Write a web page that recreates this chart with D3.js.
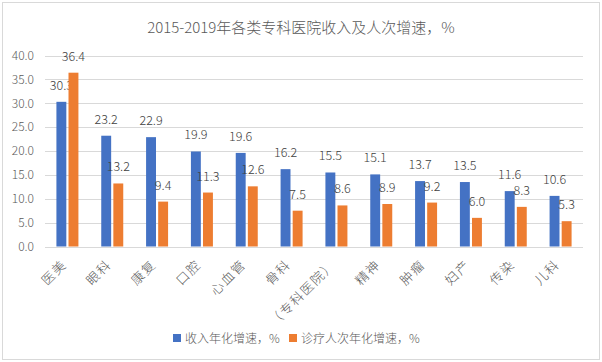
<!DOCTYPE html>
<meta charset="utf-8">
<style>
body { margin: 0; background: #fff; }
text { font-family: "Noto Sans CJK SC", "Noto Sans", sans-serif; font-weight: 300; }
.grid line { stroke: #d9d9d9; stroke-width: 1; }
.axis text { fill: #595959; font-size: 12px; }
.lbl { fill: #404040; font-size: 12.5px; }
</style>
<svg width="602" height="362"></svg>
<script src="https://d3js.org/d3.v7.min.js"></script>
<script>
var categories = ["医美", "眼科", "康复", "口腔", "心血管", "骨科", "（专科医院）", "精神", "肿瘤", "妇产", "传染", "儿科"];
var incomeGrowth = [30.3, 23.2, 22.9, 19.9, 19.6, 16.2, 15.5, 15.1, 13.7, 13.5, 11.6, 10.6];
var visitGrowth = [36.4, 13.2, 9.4, 11.3, 12.6, 7.5, 8.6, 8.9, 9.2, 6.0, 8.3, 5.3];
var seriesNames = ["收入年化增速，%", "诊疗人次年化增速，%"];
var colors = ["#4472c4", "#ed7d31"];
var yTicks = [0, 5, 10, 15, 20, 25, 30, 35, 40];

var svg = d3.select("svg");

// chart border
svg.append("rect")
  .attr("x", 2.5).attr("y", 2.5)
  .attr("width", 597).attr("height", 357)
  .attr("fill", "none").attr("stroke", "#d9d9d9");

svg.append("text")
  .attr("x", 301).attr("y", 33)
  .attr("text-anchor", "middle")
  .attr("fill", "#595959")
  .style("font-size", "15px")
  .text("2015-2019年各类专科医院收入及人次增速，%");

var plotLeft = 45, plotRight = 583, plotTop = 55.5, plotBottom = 246.5;

var x = d3.scaleBand().domain(categories).range([plotLeft, plotRight]).padding(0);
var y = d3.scaleLinear().domain([0, 40]).range([plotBottom, plotTop]);
var xs = d3.scaleBand().domain([0, 1]).range([-11, 11]).paddingInner(0.18);

// gridlines
svg.append("g").attr("class", "grid")
  .selectAll("line").data(yTicks).enter().append("line")
  .attr("x1", plotLeft).attr("x2", plotRight)
  .attr("y1", function(d) { return Math.round(y(d)) + 0.5; })
  .attr("y2", function(d) { return Math.round(y(d)) + 0.5; });

// y axis
var yAxis = svg.append("g").attr("class", "axis")
  .attr("transform", "translate(" + (plotLeft - 8) + ",0)")
  .call(d3.axisLeft(y).tickValues(yTicks).tickFormat(d3.format(".1f")).tickSize(0));
yAxis.select(".domain").remove();

// x axis labels, rotated
var xAxis = svg.append("g").attr("class", "axis")
  .attr("transform", "translate(0," + (plotBottom + 19) + ")")
  .call(d3.axisBottom(x).tickSize(0));
xAxis.select(".domain").remove();
xAxis.selectAll("text")
  .attr("y", 0).attr("dy", 0)
  .attr("x", 0)
  .style("font-size", "13px")
  .style("letter-spacing", "1.5px")
  .attr("text-anchor", "end")
  .attr("transform", "rotate(-45)");

var series = [incomeGrowth, visitGrowth];
series.forEach(function(vals, s) {
  var g = svg.append("g");
  g.selectAll("rect").data(vals).enter().append("rect")
    .attr("x", function(d, i) { return x(categories[i]) + x.bandwidth() / 2 + xs(s); })
    .attr("width", xs.bandwidth())
    .attr("y", function(d) { return y(d); })
    .attr("height", function(d) { return y(0) - y(d); })
    .attr("fill", colors[s]);
  g.selectAll("text").data(vals).enter().append("text")
    .attr("class", "lbl")
    .attr("text-anchor", "middle")
    .attr("x", function(d, i) { return x(categories[i]) + x.bandwidth() / 2 + xs(s) + xs.bandwidth() / 2; })
    .attr("y", function(d) { return y(d) - 12; })
    .text(function(d) { return d3.format(".1f")(d); });
});

// legend
var legX = [173, 289];
seriesNames.forEach(function(name, s) {
  svg.append("rect")
    .attr("x", legX[s]).attr("y", 334)
    .attr("width", 8).attr("height", 8)
    .attr("fill", colors[s]);
  svg.append("text")
    .attr("x", legX[s] + 12).attr("y", 342.5)
    .attr("fill", "#595959")
    .style("font-size", "12px")
    .text(name);
});
</script>
